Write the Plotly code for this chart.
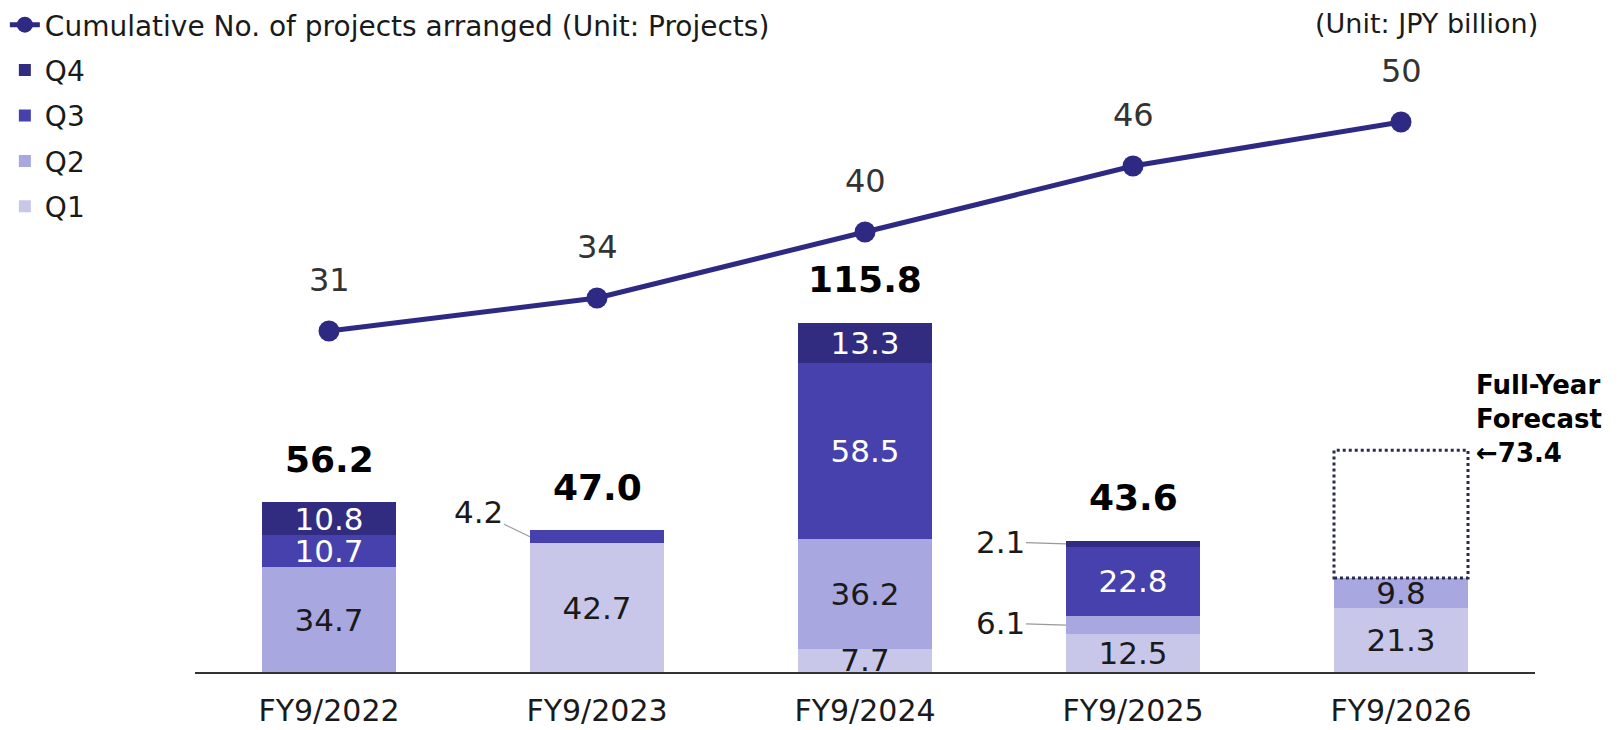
import plotly.graph_objects as go

# ---------------- data ----------------
categories = ["FY9/2022", "FY9/2023", "FY9/2024", "FY9/2025", "FY9/2026"]
q1 = [0, 42.7, 7.7, 12.5, 21.3]
q2 = [34.7, 0, 36.2, 6.1, 9.8]
q3 = [10.7, 4.2, 58.5, 22.8, 0]
q4 = [10.8, 0, 13.3, 2.1, 0]
totals = [56.2, 47.0, 115.8, 43.6, None]
forecast_total = 73.4
projects = [31, 34, 40, 46, 50]

# ---------------- style ----------------
FONT = "DejaVu Sans"
TXT = "#1a1a1a"
LINE_C = "#2e2a84"
colors = {"Q1": "#c8c7ea", "Q2": "#a9a7df", "Q3": "#4741ad", "Q4": "#312c80"}
text_colors = {"Q1": TXT, "Q2": TXT, "Q3": "white", "Q4": "white"}
legend_rank = {"Q4": 2, "Q3": 3, "Q2": 4, "Q1": 5}
BAR_W = 0.5
MIN_INSIDE = 7  # smaller segments get call-out labels
callout_offsets = [(-52, -25), (-66, -2), (-66, -2)]  # in order found

series = [("Q1", q1), ("Q2", q2), ("Q3", q3), ("Q4", q4)]

fig = go.Figure()
for name, vals in series:
    txt = [f"{v:.1f}" if v >= MIN_INSIDE else "" for v in vals]
    fig.add_trace(go.Bar(
        name=name, x=categories, y=vals, width=BAR_W,
        marker=dict(color=colors[name], line=dict(width=0)),
        text=txt, textposition="inside", insidetextanchor="middle",
        textangle=0,
        textfont=dict(family=FONT, size=31, color=text_colors[name]),
        legendgroup=name, legendrank=legend_rank[name], hoverinfo="skip",
    ))

fig.add_trace(go.Scatter(
    name="Cumulative No. of projects arranged (Unit: Projects)",
    x=categories, y=projects, yaxis="y2", mode="lines+markers",
    line=dict(color=LINE_C, width=5),
    marker=dict(color=LINE_C, size=21),
    legendgroup="line", legendrank=1, hoverinfo="skip",
))

annotations = []
# line value labels
for i, v in enumerate(projects):
    annotations.append(dict(x=categories[i], y=v, yref="y2", text=str(v),
                            showarrow=False, yshift=51,
                            font=dict(family=FONT, size=32, color="#333333")))
# totals
for i, t in enumerate(totals):
    if t is None:
        continue
    annotations.append(dict(x=categories[i], y=t, yref="y", text=f"<b>{t:.1f}</b>",
                            showarrow=False, yanchor="bottom", yshift=20,
                            font=dict(family=FONT, size=36, color="black")))
# call-out labels for small segments
k = 0
for i in range(len(categories)):
    base = 0
    for name, vals in series:
        v = vals[i]
        if 0 < v < MIN_INSIDE:
            ax, ay = callout_offsets[k]
            k += 1
            annotations.append(dict(x=i - BAR_W / 2, y=base + v / 2, xref="x", yref="y",
                                    text=f"{v:.1f}", showarrow=True, arrowhead=0,
                                    arrowwidth=1.2, arrowcolor="#9a9a9a",
                                    ax=ax, ay=ay, standoff=0,
                                    font=dict(family=FONT, size=31, color=TXT)))
        base += v

# forecast box
fc_i = len(categories) - 1
fc_base = q1[fc_i] + q2[fc_i] + q3[fc_i] + q4[fc_i]
shapes = [dict(type="rect", xref="x", yref="y",
               x0=fc_i - BAR_W / 2, x1=fc_i + BAR_W / 2,
               y0=fc_base, y1=forecast_total,
               line=dict(color="#2a2a55", width=3, dash="dot"),
               fillcolor="rgba(0,0,0,0)")]
annotations.append(dict(x=fc_i + BAR_W / 2, y=forecast_total, xref="x", yref="y",
                        text=f"<b>Full-Year<br>Forecast<br>←{forecast_total:.1f}</b>",
                        showarrow=False, xanchor="left", yanchor="bottom",
                        align="left", xshift=6, yshift=-20,
                        font=dict(family=FONT, size=26, color="black")))
# unit label
annotations.append(dict(x=1.0037, y=0.995, xref="paper", yref="paper",
                        text="(Unit: JPY billion)", showarrow=False,
                        xanchor="right", yanchor="middle",
                        font=dict(family=FONT, size=27, color=TXT)))

fig.update_layout(
    width=1619, height=730,
    margin=dict(l=195, r=84, t=20, b=58, autoexpand=False),
    paper_bgcolor="white", plot_bgcolor="white",
    barmode="stack",
    font=dict(family=FONT, color=TXT),
    uniformtext=dict(minsize=31, mode="show"),
    showlegend=True,
    legend=dict(xref="container", yref="container", x=0.003, y=1.0,
                xanchor="left", yanchor="top", traceorder="grouped",
                tracegroupgap=6, font=dict(family=FONT, size=28, color=TXT),
                bgcolor="rgba(0,0,0,0)", itemwidth=30),
    xaxis=dict(type="category", range=[-0.5, 4.5], showline=True, linecolor="#333333",
               linewidth=2, ticks="", showgrid=False, zeroline=False,
               tickfont=dict(family=FONT, size=30, color=TXT), ticklabelstandoff=11),
    yaxis=dict(range=[0, 215.9], visible=False, showgrid=False, zeroline=False),
    yaxis2=dict(range=[0, 59.27], overlaying="y", visible=False, showgrid=False,
                zeroline=False),
    annotations=annotations,
    shapes=shapes,
)

fig.write_html("out.html", config={"displayModeBar": False},
               post_script="document.body.style.margin='0';")
